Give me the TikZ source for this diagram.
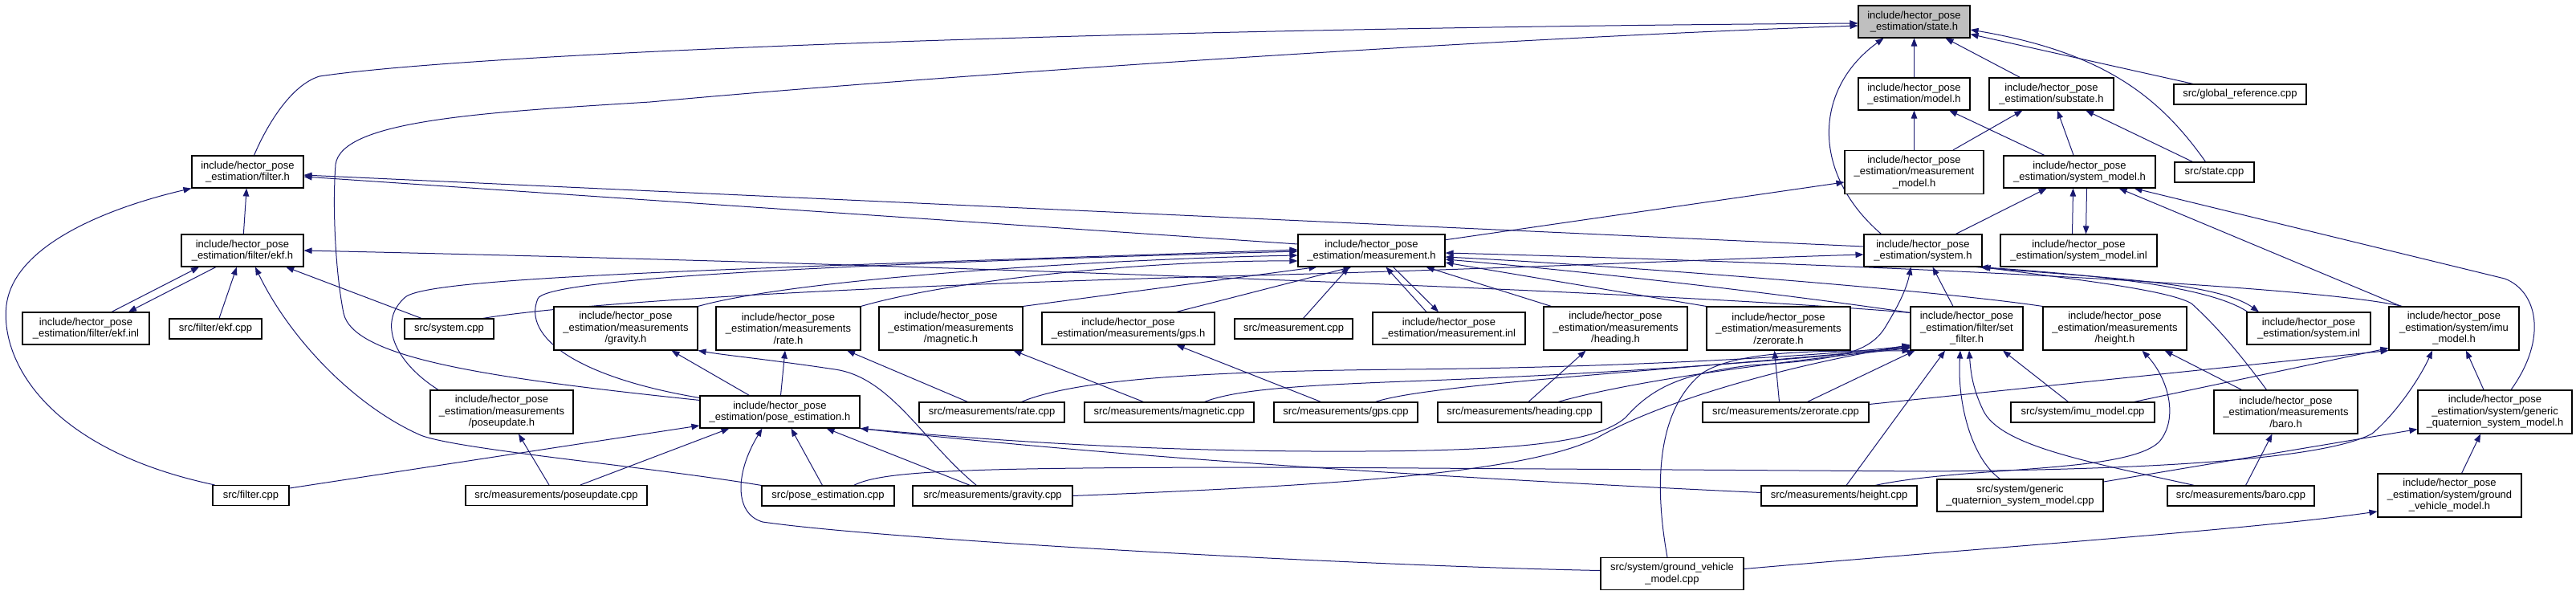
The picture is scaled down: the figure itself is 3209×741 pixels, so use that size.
\documentclass[tikz,border=0pt]{standalone}
\usepackage{fontspec}
\newfontfamily\doxyfont{Liberation Sans}
\usetikzlibrary{arrows.meta}
\definecolor{edgecol}{RGB}{25,25,112}
\definecolor{stategray}{RGB}{191,191,191}
\newcommand{\hpe}{include/hector\_pose\\\_estimation/}
\pgfdeclarelayer{bg}
\pgfsetlayers{bg,main}
\tikzset{
  dnode/.style={draw=black, line width=1.1pt, fill=white, inner sep=0pt, align=center,
    font=\doxyfont\fontsize{13}{14.5}\selectfont},
  ln1/.style={dnode, minimum height=25pt},
  ln2/.style={dnode, minimum height=40pt},
  ln3/.style={dnode, minimum height=54pt},
  edge/.style={draw=edgecol, line width=1pt, -{Triangle[length=10pt,width=7.5pt]}}
}
\begin{document}
\begin{tikzpicture}[x=1pt,y=-1pt]
\useasboundingbox (0,0) rectangle (3209,741);
% ---------- nodes ----------
\node[ln2, minimum width=139pt, fill=stategray] (state) at (2384.5,27) {\hpe state.h};
\node[ln2, minimum width=139pt] (model) at (2384.5,117) {\hpe model.h};
\node[ln2, minimum width=155pt] (substate) at (2555.5,117) {\hpe substate.h};
\node[ln1, minimum width=165pt] (globalref) at (2790.5,117.5) {src/global\_reference.cpp};
\node[ln3, minimum width=173pt] (measmodel) at (2384.5,214.5) {\hpe measurement\\\_model.h};
\node[ln2, minimum width=189pt] (sysmodel) at (2590.5,214) {\hpe system\_model.h};
\node[ln1, minimum width=99pt] (statecpp) at (2758.5,214.5) {src/state.cpp};
\node[ln2, minimum width=139pt] (filterh) at (308.5,214) {\hpe filter.h};
\node[ln2, minimum width=152pt] (ekfh) at (302,312) {\hpe filter/ekf.h};
\node[ln2, minimum width=183pt] (meash) at (1708.5,312) {\hpe measurement.h};
\node[ln2, minimum width=147pt] (sysh) at (2395.5,312) {\hpe system.h};
\node[ln2, minimum width=195pt] (sysmodelinl) at (2589.5,312) {\hpe system\_model.inl};
\node[ln2, minimum width=158pt] (ekfinl) at (107,409) {\hpe filter/ekf.inl};
\node[ln1, minimum width=115pt] (ekfcpp) at (268.5,409.5) {src/filter/ekf.cpp};
\node[ln1, minimum width=111pt] (syscpp) at (559.5,409.5) {src/system.cpp};
\node[ln3, minimum width=179pt] (gravityh) at (779.5,409) {\hpe measurements\\/gravity.h};
\node[ln3, minimum width=180pt] (rateh) at (982,409) {\hpe measurements\\/rate.h};
\node[ln3, minimum width=179pt] (magh) at (1184.5,409) {\hpe measurements\\/magnetic.h};
\node[ln2, minimum width=215pt] (gpsh) at (1405.5,409) {\hpe measurements/gps.h};
\node[ln1, minimum width=147pt] (meascpp) at (1611.5,409.5) {src/measurement.cpp};
\node[ln2, minimum width=190pt] (measinl) at (1805,409) {\hpe measurement.inl};
\node[ln3, minimum width=179pt] (headingh) at (2012.5,409) {\hpe measurements\\/heading.h};
\node[ln3, minimum width=179pt] (zeroh) at (2215.5,409) {\hpe measurements\\/zerorate.h};
\node[ln3, minimum width=140pt] (setfilter) at (2450,409) {\hpe filter/set\\\_filter.h};
\node[ln3, minimum width=179pt] (heighth) at (2634.5,409) {\hpe measurements\\/height.h};
\node[ln2, minimum width=154pt] (sysinl) at (2876,409) {\hpe system.inl};
\node[ln3, minimum width=162pt] (imuh) at (3057,409) {\hpe system/imu\\\_model.h};
\node[ln3, minimum width=178pt] (poseupdh) at (625,513) {\hpe measurements\\/poseupdate.h};
\node[ln2, minimum width=199pt] (poseh) at (971.5,513) {\hpe pose\_estimation.h};
\node[ln1, minimum width=181pt] (ratecpp) at (1235.5,513.5) {src/measurements/rate.cpp};
\node[ln1, minimum width=211pt] (magcpp) at (1456.5,513.5) {src/measurements/magnetic.cpp};
\node[ln1, minimum width=179pt] (gpscpp) at (1676.5,513.5) {src/measurements/gps.cpp};
\node[ln1, minimum width=204pt] (headingcpp) at (1893,513.5) {src/measurements/heading.cpp};
\node[ln1, minimum width=207pt] (zerocpp) at (2224.5,513.5) {src/measurements/zerorate.cpp};
\node[ln1, minimum width=179pt] (imucpp) at (2594.5,513.5) {src/system/imu\_model.cpp};
\node[ln3, minimum width=179pt] (baroh) at (2847.5,513) {\hpe measurements\\/baro.h};
\node[ln3, minimum width=192pt] (genh) at (3108,513) {\hpe system/generic\\\_quaternion\_system\_model.h};
\node[ln1, minimum width=95pt] (filtercpp) at (312.5,617) {src/filter.cpp};
\node[ln1, minimum width=226pt] (poseupdcpp) at (693,617) {src/measurements/poseupdate.cpp};
\node[ln1, minimum width=165pt] (posecpp) at (1031.5,617.5) {src/pose\_estimation.cpp};
\node[ln1, minimum width=199pt] (gravitycpp) at (1236.5,617.5) {src/measurements/gravity.cpp};
\node[ln1, minimum width=194pt] (heightcpp) at (2291,617.5) {src/measurements/height.cpp};
\node[ln2, minimum width=207pt] (gencpp) at (2516.5,617) {src/system/generic\\\_quaternion\_system\_model.cpp};
\node[ln1, minimum width=183pt] (barocpp) at (2791.5,617.5) {src/measurements/baro.cpp};
\node[ln3, minimum width=179pt] (groundh) at (3051.5,617) {\hpe system/ground\\\_vehicle\_model.h};
\node[ln2, minimum width=178pt] (groundcpp) at (2083,714.5) {src/system/ground\_vehicle\\\_model.cpp};
% ---------- edges ----------
\begin{pgfonlayer}{bg}
% into state.h
\draw[edge] (model) -- (state);
\draw[edge] (substate) -- (state);
\draw[edge] (globalref) -- (state);
\draw[edge] ([xshift=8]filterh.north) .. controls (335,150) and (365,105) .. (398,95) .. controls (600,65) and (1400,35) .. ([yshift=-2]state.west);
\draw[edge] ([yshift=-6]poseh.north west) .. controls (600,470) and (440,445) .. (428,390) .. controls (418,340) and (414,260) .. (418,205) .. controls (425,150) and (600,140) .. (810,127) .. controls (1100,100) and (1800,50) .. ([yshift=-5]state.west);
\draw[edge] ([xshift=-52]sysh.north) .. controls (2255,215) and (2260,110) .. ([xshift=-38]state.south);
\draw[edge] ([xshift=-11]statecpp.north) .. controls (2690,120) and (2620,65) .. ([yshift=-10]state.east);
% into model.h / substate.h
\draw[edge] (measmodel) -- (model);
\draw[edge] (measmodel) -- (substate);
\draw[edge] (sysmodel) -- (model);
\draw[edge] (sysmodel) -- (substate);
\draw[edge] (statecpp) -- (substate);
% into measurement_model.h / system_model.h
\draw[edge] (meash) -- (measmodel);
\draw[edge] (sysh) -- (sysmodel);
\draw[edge] ([xshift=-8]sysmodelinl.north) -- ([xshift=-8]sysmodel.south);
\draw[edge] ([xshift=9]sysmodel.south) -- ([xshift=9]sysmodelinl.north);
\draw[edge] (imuh) -- (sysmodel);
\draw[edge] ([xshift=20]genh.north) .. controls (3175,420) and (3160,362) .. (3120,347) -- ([xshift=68]sysmodel.south);
% into filter.h
\draw[edge] (ekfh) -- (filterh);
\draw[edge] ([xshift=-45]filtercpp.north) .. controls (60,560) and (0,450) .. (8,380) .. controls (18,300) and (150,255) .. (filterh.south west);
\draw[edge] ([yshift=8]meash.west) -- ([yshift=-6]filterh.east);
\draw[edge] ([yshift=5]sysh.west) -- ([yshift=-4]filterh.east);
% into filter/ekf.h
\draw[edge] ([xshift=32]ekfinl.north) -- ([xshift=-54]ekfh.south);
\draw[edge] ([xshift=-33]ekfh.south) -- ([xshift=53]ekfinl.north);
\draw[edge] (ekfcpp) -- (ekfh);
\draw[edge] (syscpp) -- (ekfh);
\draw[edge] (posecpp.north west) .. controls (800,580) and (570,560) .. (524,542) .. controls (440,505) and (360,420) .. ([xshift=16]ekfh.south);
\draw[edge] ([yshift=-8]setfilter.north west) .. controls (2100,365) and (1200,330) .. (ekfh.east);
% into measurement.h
\draw[edge] ([xshift=-28]measinl.north) -- ([xshift=18]meash.south);
\draw[edge] ([xshift=27]meash.south) -- ([xshift=-13]measinl.north);
\draw[edge] (gravityh.north east) .. controls (1000,345) and (1400,322) .. ([yshift=-6]meash.west);
\draw[edge] (rateh.north east) .. controls (1200,345) and (1450,324) .. ([yshift=-13]meash.west);
\draw[edge] (magh.north east) -- ([xshift=-68]meash.south);
\draw[edge] ([xshift=60]gpsh.north) -- ([xshift=-25]meash.south);
\draw[edge] ([xshift=10]headingh.north west) -- ([xshift=68]meash.south);
\draw[edge] ([xshift=12]meascpp.north) -- ([xshift=-28]meash.south);
\draw[edge] (zeroh.north west) -- ([yshift=-15]meash.east);
\draw[edge] (heighth.north west) .. controls (2400,360) and (2000,330) .. ([yshift=-8]meash.east);
\draw[edge] ([yshift=-8]setfilter.north west) .. controls (2250,370) and (2000,340) .. ([yshift=-11]meash.east);
\draw[edge] ([xshift=17]imuh.north west) .. controls (2880,355) and (2300,328) .. ([yshift=-3]meash.east);
\draw[edge] ([xshift=-79]poseupdh.north) .. controls (490,450) and (470,400) .. (505,370) .. controls (535,345) and (900,335) .. ([yshift=1]meash.west);
\draw[edge] ([yshift=-3]poseh.north west) .. controls (720,470) and (650,420) .. (670,372) .. controls (680,348) and (1000,330) .. ([yshift=-1]meash.west);
% into system.h
\draw[edge] ([xshift=42]syscpp.north) .. controls (700,380) and (1000,358) .. (1560,343) .. controls (1900,334) and (2150,322) .. ([yshift=-5]sysh.west);
\draw[edge] ([xshift=-17]setfilter.north) -- ([xshift=12]sysh.south);
\draw[edge] ([xshift=-76]sysinl.north) .. controls (2750,355) and (2600,342) .. ([xshift=-3]sysh.south east);
\draw[edge] ([xshift=-8]sysh.south east) .. controls (2600,345) and (2760,350) .. ([xshift=-62]sysinl.north);
\draw[edge] ([xshift=-24]baroh.north) .. controls (2790,440) and (2760,405) .. (2730,378) .. controls (2700,360) and (2560,345) .. (sysh.south east);
\draw[edge] (poseh.south east) .. controls (1300,555) and (1500,563) .. (1700,562) .. controls (1900,561) and (1990,550) .. (2025,520) .. controls (2060,480) and (2100,465) .. (2180,455) .. controls (2290,448) and (2330,440) .. (2350,405) .. controls (2365,380) and (2375,360) .. ([xshift=-15]sysh.south);
% into filter/set_filter.h
\draw[edge] ([xshift=37]ratecpp.north) .. controls (1350,468) and (1550,462) .. (1750,460) .. controls (2000,458) and (2250,445) .. ([yshift=6]setfilter.south west);
\draw[edge] ([xshift=44]magcpp.north) .. controls (1540,485) and (1620,480) .. (1750,475) .. controls (2000,466) and (2250,448) .. ([yshift=5]setfilter.south west);
\draw[edge] ([xshift=37]gpscpp.north) .. controls (1780,478) and (2100,460) .. ([yshift=4]setfilter.south west);
\draw[edge] ([xshift=48]headingcpp.north) .. controls (2050,470) and (2250,447) .. ([yshift=3]setfilter.south west);
\draw[edge] ([xshift=27]zerocpp.north) -- ([xshift=6]setfilter.south west);
\draw[edge] (gravitycpp.east) .. controls (1650,605) and (1900,590) .. (1990,545) .. controls (2060,505) and (2200,460) .. ([yshift=7]setfilter.south west);
\draw[edge] ([xshift=9]heightcpp.north) -- ([xshift=-27]setfilter.south);
\draw[edge] ([xshift=-58]barocpp.north) .. controls (2600,575) and (2490,555) .. (2470,510) .. controls (2458,485) and (2455,465) .. ([xshift=3]setfilter.south);
\draw[edge] ([xshift=-25]gencpp.north) .. controls (2455,570) and (2438,500) .. ([xshift=-8]setfilter.south);
\draw[edge] ([xshift=-18]imucpp.north) -- ([xshift=45]setfilter.south);
\draw[edge] ([xshift=-6]groundcpp.north) .. controls (2060,600) and (2065,510) .. (2120,465) .. controls (2170,432) and (2300,438) .. (setfilter.south west);
% into system/imu_model.h
\draw[edge] ([xshift=64]imucpp.north) -- ([yshift=3]imuh.south west);
\draw[edge] ([yshift=10]zerocpp.east) -- (imuh.south west);
\draw[edge] ([xshift=-14]genh.north) -- ([xshift=15]imuh.south);
\draw[edge] ([xshift=32]posecpp.north) .. controls (1100,586) and (1200,582) .. (1610,582) -- (2400,587) .. controls (2700,585) and (2900,570) .. (2955,540) .. controls (2985,515) and (3015,470) .. ([xshift=-27]imuh.south);
% into generic_quaternion_system_model.h
\draw[edge] ([yshift=17]gencpp.east) -- ([yshift=6]genh.south west);
\draw[edge] ([xshift=15]groundh.north) -- ([xshift=-18]genh.south);
\draw[edge] ([yshift=6]groundcpp.east) .. controls (2500,680) and (2800,660) .. ([yshift=-20]groundh.west);
% into pose_estimation.h
\draw[edge] ([yshift=4]groundcpp.west) .. controls (1700,705) and (1100,672) .. (950,650) .. controls (915,640) and (915,590) .. ([xshift=-22]poseh.south);
\draw[edge] ([xshift=-7]posecpp.north) -- ([xshift=14]poseh.south);
\draw[edge] ([xshift=-28]gravitycpp.north) -- ([xshift=58]poseh.south);
\draw[edge] ([xshift=30]poseupdcpp.north) -- ([xshift=-63]poseh.south);
\draw[edge] ([yshift=9]filtercpp.east) -- ([yshift=-17]poseh.west);
\draw[edge] ([yshift=4]heightcpp.west) .. controls (1800,595) and (1400,570) .. (poseh.south east);
% measurement headers from their sources
\draw[edge] ([xshift=-20]gravitycpp.north) .. controls (1150,550) and (1110,470) .. (1040,460) .. controls (960,448) and (900,442) .. (gravityh.south east);
\draw[edge] ([xshift=-38]poseh.north) -- ([xshift=57]gravityh.south);
\draw[edge] ([xshift=1]poseh.north) -- ([xshift=-4]rateh.south);
\draw[edge] ([xshift=-30]ratecpp.north) -- ([xshift=73]rateh.south);
\draw[edge] ([xshift=-32]magcpp.north) -- ([xshift=78]magh.south);
\draw[edge] ([xshift=-31]gpscpp.north) -- ([xshift=60]gpsh.south);
\draw[edge] ([xshift=11]headingcpp.north) -- ([xshift=-37]headingh.south);
\draw[edge] ([xshift=-8]zerocpp.north) -- ([xshift=-5]zeroh.south);
\draw[edge] ([xshift=45]heightcpp.north) .. controls (2450,580) and (2650,590) .. (2690,550) .. controls (2715,520) and (2700,470) .. ([xshift=34]heighth.south);
\draw[edge] ([xshift=-55]baroh.north) -- ([xshift=62]heighth.south);
\draw[edge] ([xshift=6]barocpp.north) -- ([xshift=-17]baroh.south);
\draw[edge] ([xshift=-9]poseupdcpp.north) -- ([xshift=21]poseupdh.south);
\end{pgfonlayer}
\end{tikzpicture}
\end{document}
